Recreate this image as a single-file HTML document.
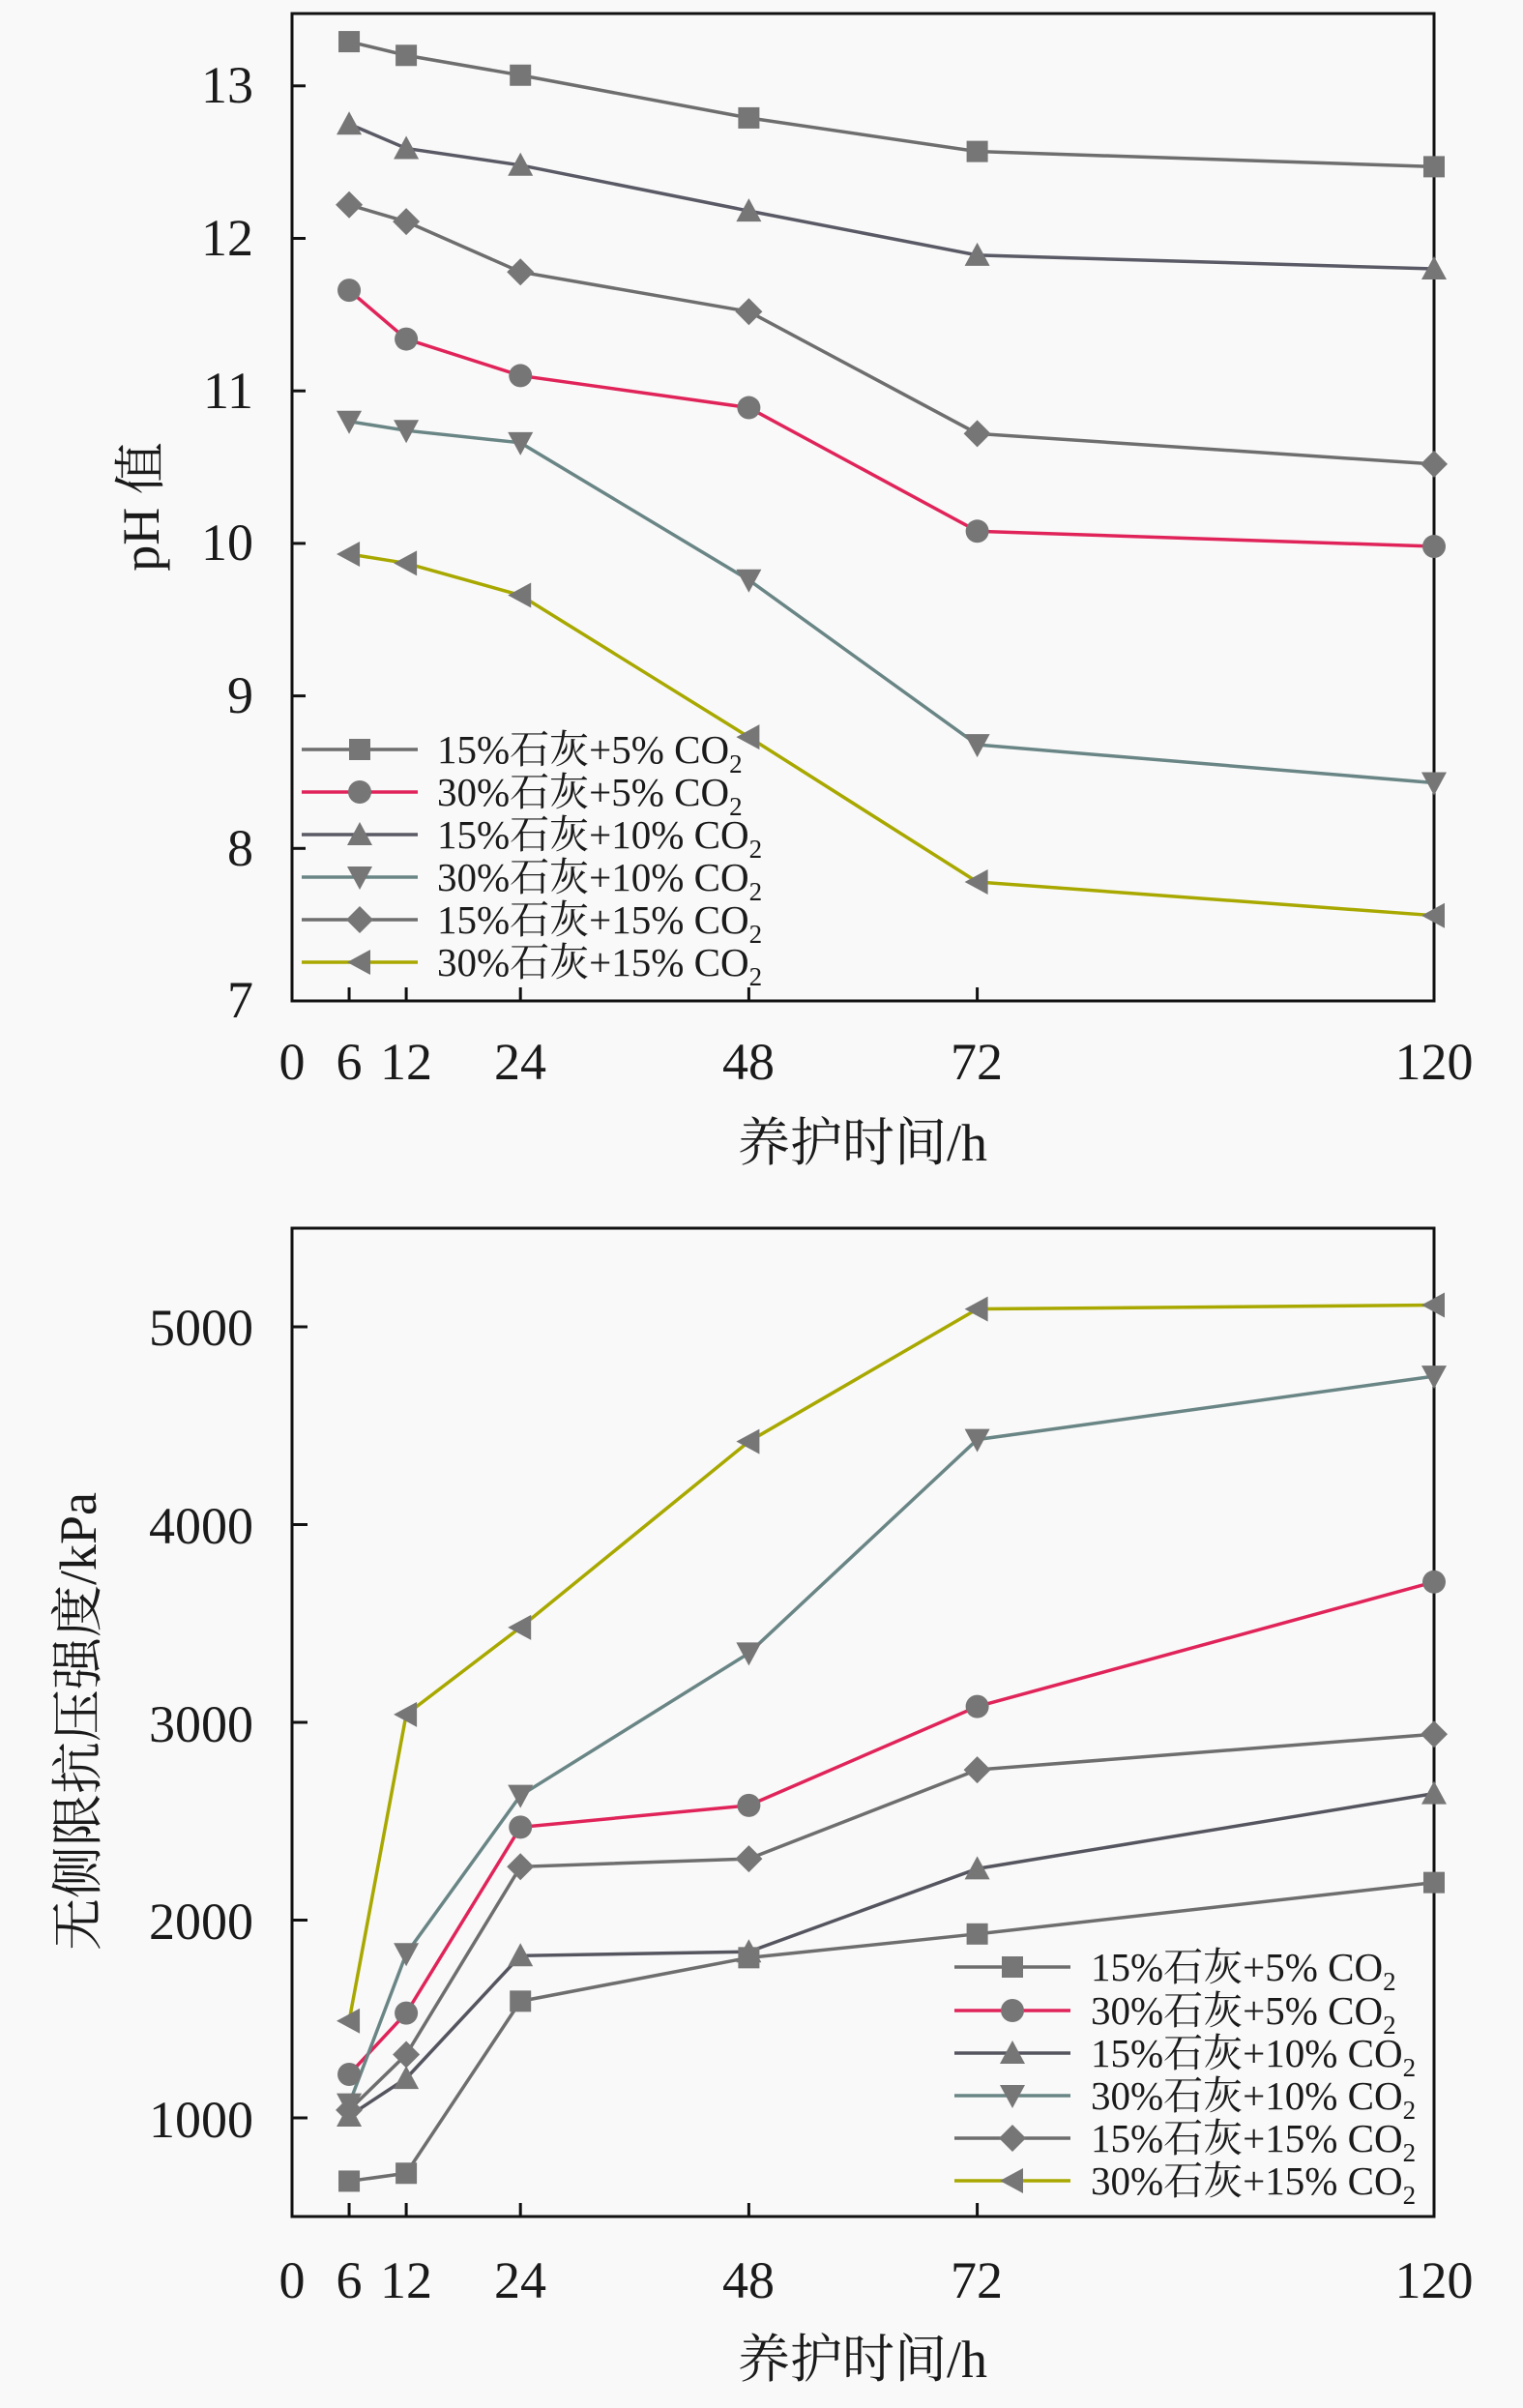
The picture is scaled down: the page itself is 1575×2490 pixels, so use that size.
<!DOCTYPE html>
<html><head><meta charset="utf-8"><style>
html,body{margin:0;padding:0;background:#f9f9f9;}
svg{display:block;}
text{font-family:"Liberation Serif","Noto Serif CJK SC",serif;fill:#1a1a1a;}
</style></head><body>
<svg id="s" width="1575" height="2490" viewBox="0 0 1575 2490" xmlns="http://www.w3.org/2000/svg">
<rect width="1575" height="2490" fill="#f9f9f9"/>
<g id="g"></g>
<g font-size="54" text-anchor="end">
<text x="262" y="106">13</text><text x="262" y="264">12</text><text x="262" y="422">11</text>
<text x="262" y="579">10</text><text x="262" y="737">9</text><text x="262" y="895">8</text><text x="262" y="1052">7</text>
</g>
<g font-size="54" text-anchor="middle">
<text x="302" y="1116">0</text><text x="361" y="1116">6</text><text x="420" y="1116">12</text><text x="538" y="1116">24</text>
<text x="774" y="1116">48</text><text x="1010" y="1116">72</text><text x="1483" y="1116">120</text>
</g>
<text x="892" y="1200" font-size="54" text-anchor="middle">养护时间/h</text>
<text transform="translate(164,524) rotate(-90)" font-size="54" text-anchor="middle">pH 值</text>
<g font-size="41">
<text x="452" y="789">15%石灰+5% CO<tspan font-size="27" dy="10">2</tspan></text>
<text x="452" y="833">30%石灰+5% CO<tspan font-size="27" dy="10">2</tspan></text>
<text x="452" y="877">15%石灰+10% CO<tspan font-size="27" dy="10">2</tspan></text>
<text x="452" y="921">30%石灰+10% CO<tspan font-size="27" dy="10">2</tspan></text>
<text x="452" y="965">15%石灰+15% CO<tspan font-size="27" dy="10">2</tspan></text>
<text x="452" y="1009">30%石灰+15% CO<tspan font-size="27" dy="10">2</tspan></text>
</g>
<g font-size="54" text-anchor="end">
<text x="262" y="1391">5000</text><text x="262" y="1596">4000</text><text x="262" y="1801">3000</text>
<text x="262" y="2005">2000</text><text x="262" y="2210">1000</text>
</g>
<g font-size="54" text-anchor="middle">
<text x="302" y="2376">0</text><text x="361" y="2376">6</text><text x="420" y="2376">12</text><text x="538" y="2376">24</text>
<text x="774" y="2376">48</text><text x="1010" y="2376">72</text><text x="1483" y="2376">120</text>
</g>
<text x="892" y="2458" font-size="54" text-anchor="middle">养护时间/h</text>
<text transform="translate(99,1780) rotate(-90)" font-size="54" text-anchor="middle">无侧限抗压强度/kPa</text>
<g font-size="41">
<text x="1128" y="2048">15%石灰+5% CO<tspan font-size="27" dy="10">2</tspan></text>
<text x="1128" y="2093">30%石灰+5% CO<tspan font-size="27" dy="10">2</tspan></text>
<text x="1128" y="2137">15%石灰+10% CO<tspan font-size="27" dy="10">2</tspan></text>
<text x="1128" y="2181">30%石灰+10% CO<tspan font-size="27" dy="10">2</tspan></text>
<text x="1128" y="2225">15%石灰+15% CO<tspan font-size="27" dy="10">2</tspan></text>
<text x="1128" y="2269">30%石灰+15% CO<tspan font-size="27" dy="10">2</tspan></text>
</g>
</svg>
<script>
var NS="http://www.w3.org/2000/svg",G=document.getElementById("g");
function el(t,a){var e=document.createElementNS(NS,t);for(var k in a)e.setAttribute(k,a[k]);G.appendChild(e);return e;}
var MC="#767676";
function marker(type,x,y){var r=11;
 if(type=="sq")el("rect",{x:x-r,y:y-r,width:2*r,height:2*r,fill:MC});
 else if(type=="ci")el("circle",{cx:x,cy:y,r:r+1,fill:MC});
 else if(type=="up")el("polygon",{points:(x)+","+(y-r-2)+" "+(x-r-2)+","+(y+r)+" "+(x+r+2)+","+(y+r),fill:MC});
 else if(type=="dn")el("polygon",{points:(x)+","+(y+r+2)+" "+(x-r-2)+","+(y-r)+" "+(x+r+2)+","+(y-r),fill:MC});
 else if(type=="di")el("polygon",{points:x+","+(y-r-3)+" "+(x+r+3)+","+y+" "+x+","+(y+r+3)+" "+(x-r-3)+","+y,fill:MC});
 else if(type=="le")el("polygon",{points:(x-r-2)+","+y+" "+(x+r)+","+(y-r-2)+" "+(x+r)+","+(y+r+2),fill:MC});
}
var XS=[6,12,24,48,72,120];
function X(h){return 302+h*(1483-302)/120;}
function chart(top,bot,ymap,series,leg){
 el("rect",{x:302,y:top,width:1181,height:bot-top,fill:"none",stroke:"#111","stroke-width":3});
 XS.forEach(function(h){el("line",{x1:X(h),y1:bot,x2:X(h),y2:bot-14,stroke:"#111","stroke-width":3});});
 series.forEach(function(s){
  var pts=s.d.map(function(v,i){return X(XS[i])+","+ymap(v);}).join(" ");
  el("polyline",{points:pts,fill:"none",stroke:s.c,"stroke-width":3.5});
 });
 series.forEach(function(s){s.d.forEach(function(v,i){marker(s.m,X(XS[i]),ymap(v));});});
 series.forEach(function(s,i){var y=leg.y[i];
  el("line",{x1:leg.x1,y1:y,x2:leg.x2,y2:y,stroke:s.lc||s.c,"stroke-width":3.5});
  marker(s.m,(leg.x1+leg.x2)/2,y);});
}
var GR="#6e6e6e",RD="#e0245a",YL="#a8a800";
var yt=function(v){return 1035-(v-7)*157.7;};
[7,8,9,10,11,12,13].forEach(function(v){el("line",{x1:302,y1:yt(v),x2:316,y2:yt(v),stroke:"#111","stroke-width":3});});
chart(14,1035,yt,[
 {m:"sq",c:GR,d:[13.29,13.2,13.07,12.79,12.57,12.47]},
 {m:"ci",c:RD,d:[11.66,11.34,11.1,10.89,10.08,9.98]},
 {m:"up",c:"#5a5a66",d:[12.75,12.59,12.48,12.18,11.89,11.8]},
 {m:"dn",c:"#6a8585",d:[10.8,10.74,10.66,9.76,8.68,8.43]},
 {m:"di",c:GR,d:[12.22,12.11,11.78,11.52,10.72,10.52]},
 {m:"le",c:YL,d:[9.93,9.87,9.66,8.73,7.78,7.56]}
],{x1:312,x2:432,y:[775,819,863,907,951,995]});
var yb=function(v){return 2190-(v-1000)*0.2045;};
[1000,2000,3000,4000,5000].forEach(function(v){el("line",{x1:302,y1:yb(v),x2:318,y2:yb(v),stroke:"#111","stroke-width":3});});
chart(1270,2292,yb,[
 {m:"sq",c:GR,d:[680,720,1590,1810,1930,2190]},
 {m:"ci",c:RD,d:[1220,1530,2470,2580,3080,3710]},
 {m:"up",c:"#555560",d:[1010,1200,1820,1840,2260,2640]},
 {m:"dn",c:"#6a8585",d:[1070,1830,2630,3350,4430,4750]},
 {m:"di",c:GR,d:[1040,1320,2270,2310,2760,2940]},
 {m:"le",c:YL,d:[1490,3040,3480,4420,5090,5110]}
],{x1:987,x2:1107,y:[2034,2079,2123,2167,2211,2255]});
</script>
</body></html>
